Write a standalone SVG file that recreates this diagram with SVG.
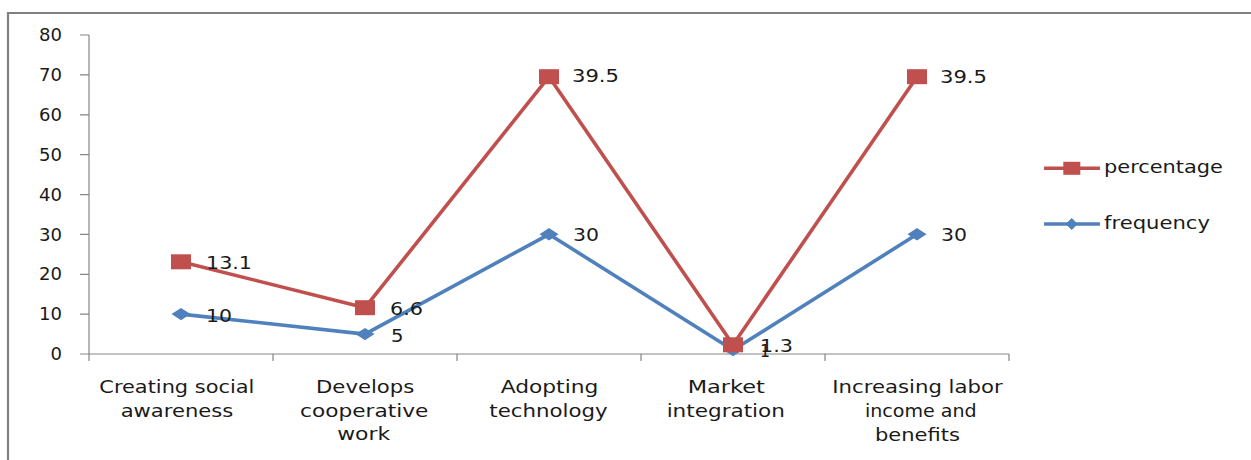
<svg xmlns="http://www.w3.org/2000/svg" width="1251" height="460" viewBox="0 0 1251 460">
<style>
text{font-family:"DejaVu Sans","Liberation Sans",sans-serif;font-size:17.5px;fill:#1a1a1a}
.ax{stroke:#868686;stroke-width:1.2;fill:none}
.yl{text-anchor:end}
.cl{text-anchor:middle}
.red{stroke:#C0504D;stroke-width:3.6;fill:none;stroke-linejoin:round}
.blue{stroke:#4F81BD;stroke-width:3.6;fill:none;stroke-linejoin:round}
</style>
<defs>
<rect id="sq" x="-10" y="-7.5" width="20" height="15" fill="#C0504D"/>
<path id="dm" d="M-9.5,0 L0,-6.2 L9.5,0 L0,6.2Z" fill="#4F81BD"/>
</defs>
<rect width="1251" height="460" fill="#fff"/>
<g id="frame"><path d="M8,460 V13 H1251" stroke="#808080" stroke-width="2.2" fill="none"/></g>
<g id="axes">
<path class="ax" d="M89,35 V361 M80,354 H1009 M80,35 H89 M80,74.9 H89 M80,114.8 H89 M80,154.7 H89 M80,194.6 H89 M80,234.4 H89 M80,274.3 H89 M80,314.1 H89 M273,354 V361 M457,354 V361 M641,354 V361 M825,354 V361 M1009,354 V361"/>
<g id="ylabels">
<text class="yl" x="62" y="41" textLength="23" lengthAdjust="spacingAndGlyphs">80</text>
<text class="yl" x="62" y="81" textLength="23" lengthAdjust="spacingAndGlyphs">70</text>
<text class="yl" x="62" y="121" textLength="23" lengthAdjust="spacingAndGlyphs">60</text>
<text class="yl" x="62" y="161" textLength="23" lengthAdjust="spacingAndGlyphs">50</text>
<text class="yl" x="62" y="200.6" textLength="23" lengthAdjust="spacingAndGlyphs">40</text>
<text class="yl" x="62" y="240.5" textLength="23" lengthAdjust="spacingAndGlyphs">30</text>
<text class="yl" x="62" y="280.4" textLength="23" lengthAdjust="spacingAndGlyphs">20</text>
<text class="yl" x="62" y="320.2" textLength="23" lengthAdjust="spacingAndGlyphs">10</text>
<text class="yl" x="62" y="360" textLength="11.5" lengthAdjust="spacingAndGlyphs">0</text>
</g>
<g id="xlabels">
<text class="cl" x="176.8" y="393" textLength="155" lengthAdjust="spacingAndGlyphs">Creating social</text>
<text class="cl" x="177" y="416.5" textLength="112.6" lengthAdjust="spacingAndGlyphs">awareness</text>
<text class="cl" x="365.2" y="393" textLength="98.3" lengthAdjust="spacingAndGlyphs">Develops</text>
<text class="cl" x="364.2" y="416.5" textLength="128.3" lengthAdjust="spacingAndGlyphs">cooperative</text>
<text class="cl" x="363.7" y="440" textLength="53" lengthAdjust="spacingAndGlyphs">work</text>
<text class="cl" x="549.5" y="393" textLength="97.7" lengthAdjust="spacingAndGlyphs">Adopting</text>
<text class="cl" x="548.5" y="416.5" textLength="118.3" lengthAdjust="spacingAndGlyphs">technology</text>
<text class="cl" x="726.3" y="393" textLength="77.3" lengthAdjust="spacingAndGlyphs">Market</text>
<text class="cl" x="725.8" y="416.5" textLength="118.3" lengthAdjust="spacingAndGlyphs">integration</text>
<text class="cl" x="917.5" y="392.5" textLength="170.3" lengthAdjust="spacingAndGlyphs">Increasing labor</text>
<text class="cl" x="920.8" y="416.7" textLength="111.7" lengthAdjust="spacingAndGlyphs">income and</text>
<text class="cl" x="917.5" y="441" textLength="85" lengthAdjust="spacingAndGlyphs">benefits</text>
</g>
</g>
<g id="series-frequency">
<polyline class="blue" points="181,314.1 365,334.1 549,234.3 733,350 917,234.3"/>
<use href="#dm" x="181" y="314.1"/>
<use href="#dm" x="365" y="334.1"/>
<use href="#dm" x="549" y="234.3"/>
<use href="#dm" x="733" y="350"/>
<use href="#dm" x="917" y="234.3"/>
</g>
<g id="series-percentage">
<polyline class="red" points="181,261.8 365,307.7 549,76.7 733,344.8 917,76.7"/>
<use href="#sq" x="181" y="261.8"/>
<use href="#sq" x="365" y="307.7"/>
<use href="#sq" x="549" y="76.7"/>
<use href="#sq" x="733" y="344.8"/>
<use href="#sq" x="917" y="76.7"/>
</g>
<g id="data-labels">
<text x="206" y="321.7" textLength="26" lengthAdjust="spacingAndGlyphs">10</text>
<text x="391" y="341.7" textLength="12.5" lengthAdjust="spacingAndGlyphs">5</text>
<text x="573" y="241" textLength="26" lengthAdjust="spacingAndGlyphs">30</text>
<text x="760" y="357" textLength="10" lengthAdjust="spacingAndGlyphs">1</text>
<text x="941" y="241" textLength="26" lengthAdjust="spacingAndGlyphs">30</text>
<text x="206" y="269" textLength="46" lengthAdjust="spacingAndGlyphs">13.1</text>
<text x="390" y="315" textLength="33" lengthAdjust="spacingAndGlyphs">6.6</text>
<text x="572" y="82.3" textLength="47" lengthAdjust="spacingAndGlyphs">39.5</text>
<text x="760" y="351.7" textLength="33" lengthAdjust="spacingAndGlyphs">1.3</text>
<text x="940" y="83.3" textLength="47" lengthAdjust="spacingAndGlyphs">39.5</text>
</g>
<g id="legend">
<g id="legend-percentage">
<path d="M1044,168.3 H1100" class="red"/>
<rect x="1063.3" y="161.8" width="17" height="13" fill="#C0504D"/>
<text x="1104" y="173.3" textLength="119" lengthAdjust="spacingAndGlyphs">percentage</text>
</g>
<g id="legend-frequency">
<path d="M1044,224 H1100" class="blue"/>
<path d="M1065.7,224 L1071.7,218 L1077.7,224 L1071.7,230Z" fill="#4F81BD"/>
<text x="1104" y="229.3" textLength="106" lengthAdjust="spacingAndGlyphs">frequency</text>
</g>
</g>
</svg>
